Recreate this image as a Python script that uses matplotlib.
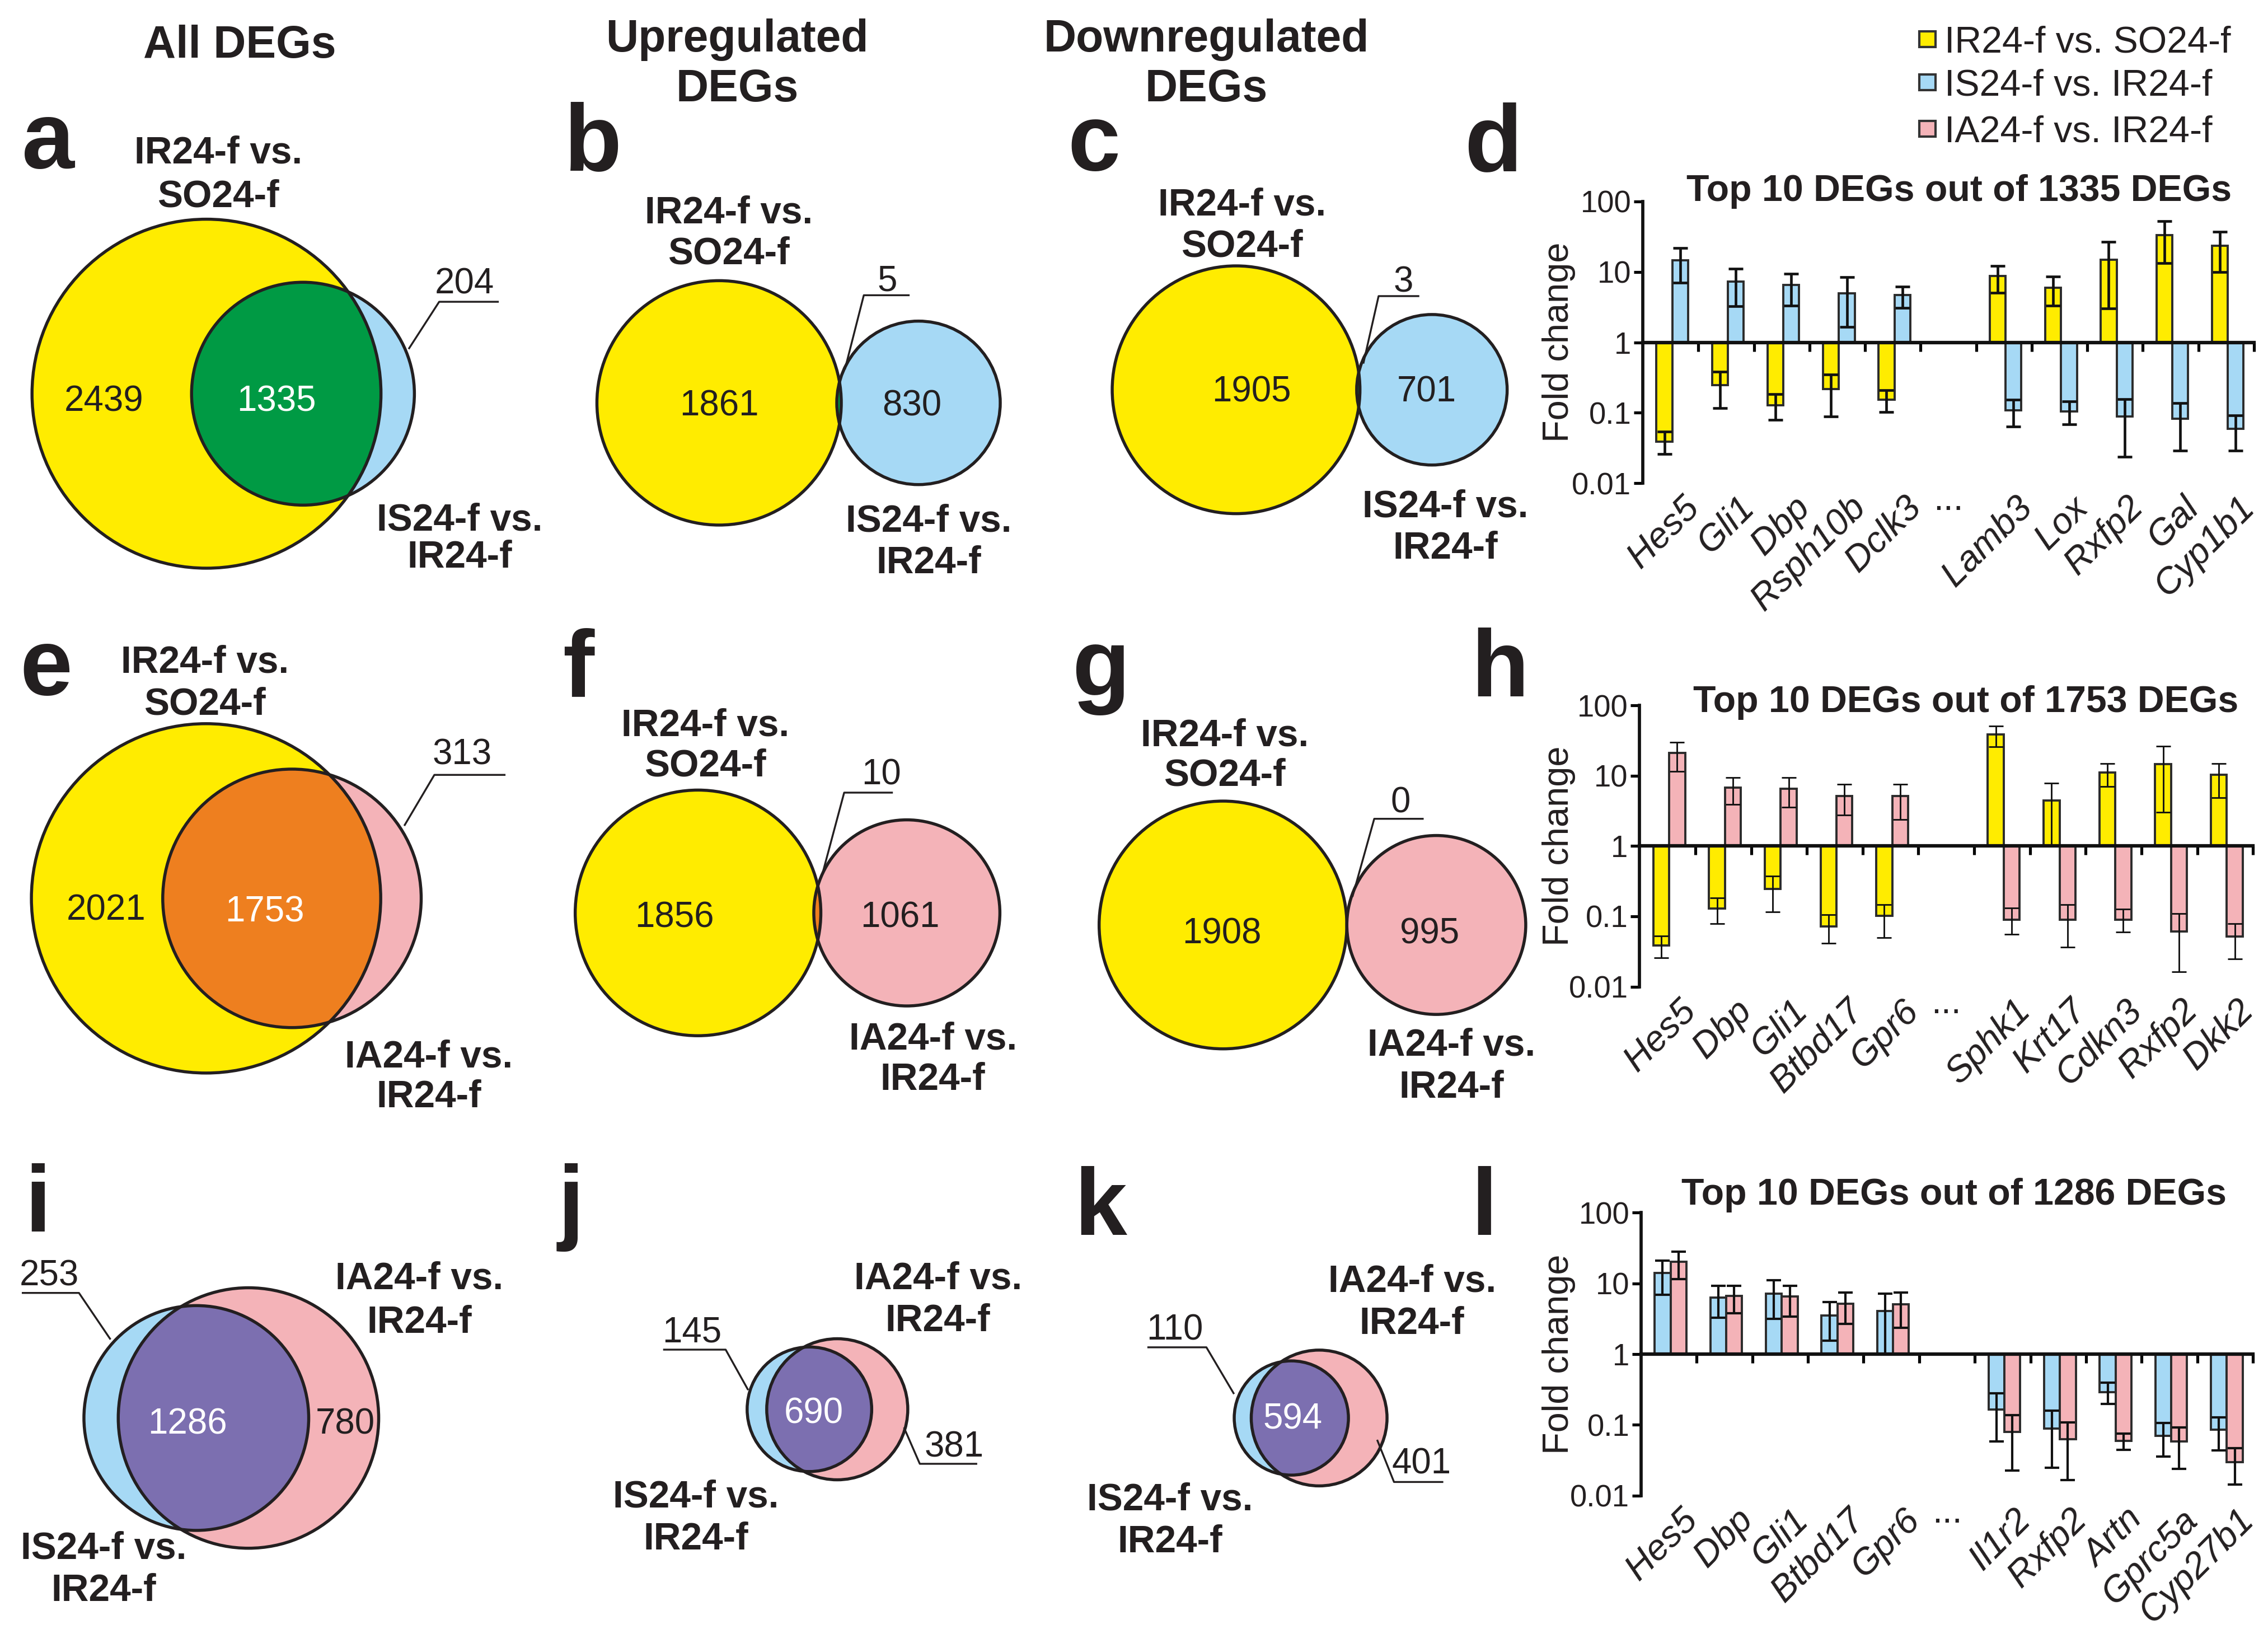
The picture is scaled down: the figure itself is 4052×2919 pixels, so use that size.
import numpy as np
import matplotlib
matplotlib.use("Agg")
import matplotlib.pyplot as plt
from matplotlib.patches import Circle, Rectangle
from matplotlib.transforms import blended_transform_factory

plt.rcParams['font.family'] = ['Liberation Sans', 'DejaVu Sans']

# ---------------- data ----------------
# Venn counts: (only left set, overlap, only right set)
venn_a = (2439, 1335, 204)
venn_b = (1861, 5, 830)
venn_c = (1905, 3, 701)
venn_e = (2021, 1753, 313)
venn_f = (1856, 10, 1061)
venn_g = (1908, 0, 995)
venn_i = (253, 1286, 780)
venn_j = (145, 690, 381)
venn_k = (110, 594, 401)

nan = np.nan
# panel d: IR24-f vs SO24-f (yellow) and IS24-f vs IR24-f (blue)
d_genes = ["Hes5", "Gli1", "Dbp", "Rsph10b", "Dclk3", "...", "Lamb3", "Lox", "Rxfp2", "Gal", "Cyp1b1"]
d_yel = [0.039, 0.247, 0.128, 0.218, 0.153, nan, 8.8, 5.94, 14.8, 33.3, 23.6]
d_yel_lo = [0.026, 0.116, 0.079, 0.089, 0.103, nan, 5.1, 3.3, 3.03, 13.3, 9.9]
d_yel_hi = [0.054, 0.38, 0.184, 0.35, 0.208, nan, 12.2, 8.65, 26.5, 53.0, 37.0]
d_blu = [14.7, 7.35, 6.48, 5.0, 4.72, nan, 0.108, 0.105, 0.089, 0.082, 0.059]
d_blu_lo = [7.0, 3.24, 3.3, 1.65, 3.06, nan, 0.064, 0.069, 0.0236, 0.029, 0.029]
d_blu_hi = [21.8, 11.2, 9.35, 8.4, 6.2, nan, 0.155, 0.146, 0.156, 0.137, 0.092]

# panel h: IR24-f vs SO24-f (yellow) and IA24-f vs IR24-f (pink)
h_genes = ["Hes5", "Dbp", "Gli1", "Btbd17", "Gpr6", "...", "Sphk1", "Krt17", "Cdkn3", "Rxfp2", "Dkk2"]
h_yel = [0.0385, 0.13, 0.243, 0.072, 0.101, nan, 38.9, 4.41, 11.0, 14.7, 10.3]
h_yel_lo = [0.0257, 0.078, 0.115, 0.0416, 0.05, nan, 26.0, 0.99, 7.06, 3.0, 4.9]
h_yel_hi = [0.053, 0.184, 0.374, 0.106, 0.148, nan, 51.0, 7.86, 15.0, 26.2, 15.0]
h_pnk = [21.2, 6.74, 6.55, 5.15, 5.15, nan, 0.09, 0.09, 0.09, 0.0605, 0.0514]
h_pnk_lo = [11.5, 3.93, 3.57, 2.75, 2.38, nan, 0.0556, 0.0367, 0.06, 0.0162, 0.0247]
h_pnk_hi = [30.0, 9.4, 9.4, 7.56, 7.56, nan, 0.131, 0.148, 0.126, 0.109, 0.0785]

# panel l: IS24-f vs IR24-f (blue) and IA24-f vs IR24-f (pink)
l_genes = ["Hes5", "Dbp", "Gli1", "Btbd17", "Gpr6", "...", "Il1r2", "Rxfp2", "Artn", "Gprc5a", "Cyp27b1"]
l_blu = [14.1, 6.25, 7.1, 3.5, 4.1, nan, 0.166, 0.089, 0.288, 0.0697, 0.0863]
l_blu_lo = [6.96, 3.3, 3.18, 1.55, 1.0, nan, 0.058, 0.0246, 0.199, 0.0357, 0.0435]
l_blu_hi = [20.9, 9.16, 11.0, 5.4, 7.1, nan, 0.28, 0.158, 0.398, 0.107, 0.128]
l_pnk = [20.2, 6.63, 6.56, 5.14, 5.04, nan, 0.08, 0.0625, 0.0595, 0.0583, 0.030]
l_pnk_lo = [11.5, 3.79, 3.37, 2.67, 2.37, nan, 0.0228, 0.0166, 0.0443, 0.0237, 0.0144]
l_pnk_hi = [28.0, 9.25, 9.25, 7.45, 7.45, nan, 0.138, 0.108, 0.076, 0.0916, 0.047]

yticks = [0.01, 0.1, 1, 10, 100]
ytick_labels = ["0.01", "0.1", "1", "10", "100"]
legend_labels = ["IR24-f vs. SO24-f", "IS24-f vs. IR24-f", "IA24-f vs. IR24-f"]

# ---------------- style ----------------
YEL = '#FFEC00'
BLU = '#A6D9F5'
PNK = '#F4B3B8'
GRN = '#009A44'
ORG = '#EE7F1F'
PUR = '#7C6FB0'
TXT = '#231F20'

W = 1560.0
S = 4053 / W
HD = 2919 / S
DPI = 187
fig = plt.figure(figsize=(4053 / DPI, 2919 / DPI), dpi=DPI)
fig.patch.set_facecolor('white')

ax0 = fig.add_axes([0, 0, 1, 1])
ax0.set_xlim(0, W)
ax0.set_ylim(HD, 0)
ax0.axis('off')


def T(x, yc, s, size, bold=False, color=TXT, ha='center', style='normal'):
    ax0.text(x, yc + 0.358 * size, s, fontsize=size, fontweight='bold' if bold else 'normal',
             color=color, ha=ha, va='baseline', fontstyle=style)


def frect(x0, y0, x1, y1):
    return [x0 / W, 1 - y1 / HD, (x1 - x0) / W, (y1 - y0) / HD]


def lens(r1, r2, d):
    if d >= r1 + r2:
        return 0.0
    if d <= abs(r1 - r2):
        return np.pi * min(r1, r2) ** 2
    a1 = r1 ** 2 * np.arccos((d * d + r1 * r1 - r2 * r2) / (2 * d * r1))
    a2 = r2 ** 2 * np.arccos((d * d + r2 * r2 - r1 * r1) / (2 * d * r2))
    a3 = 0.5 * np.sqrt((-d + r1 + r2) * (d + r1 - r2) * (d - r1 + r2) * (d + r1 + r2))
    return a1 + a2 - a3


def venn(counts, cx, cy, scale, ca, cb, cab):
    na, nab, nb = counts
    ra = scale * np.sqrt(na + nab)
    rb = scale * np.sqrt(nb + nab)
    target = np.pi * scale ** 2 * nab
    lo, hi = abs(ra - rb), ra + rb
    if target > 0:
        for _ in range(80):
            mid = 0.5 * (lo + hi)
            if lens(ra, rb, mid) > target:
                lo = mid
            else:
                hi = mid
        d = 0.5 * (lo + hi)
    else:
        d = ra + rb
    pa = Circle((cx, cy), ra, fc=ca, ec='none', zorder=1)
    pb = Circle((cx + d, cy), rb, fc=cb, ec='none', zorder=1)
    ax0.add_patch(pa)
    ax0.add_patch(pb)
    pab = Circle((cx + d, cy), rb, fc=cab, ec='none', zorder=2)
    ax0.add_patch(pab)
    pab.set_clip_path(pa)
    for (c, r) in [((cx, cy), ra), ((cx + d, cy), rb)]:
        ax0.add_patch(Circle(c, r, fill=False, ec=TXT, lw=2.1, zorder=3))


def leader(pts):
    xs, ys = zip(*pts)
    ax0.plot(xs, ys, color=TXT, lw=1.3, zorder=4, solid_capstyle='butt')


BL = 26    # bold set label size
NS = 24.5  # numbers size

# headers
T(165, 28.5, "All DEGs", 31, bold=True)
T(507, 24.5, "Upregulated", 31, bold=True)
T(507, 58.4, "DEGs", 31, bold=True)
T(829.5, 24.5, "Downregulated", 31, bold=True)
T(829.5, 58.4, "DEGs", 31, bold=True)

# legend
for k, (lab, col) in enumerate(zip(legend_labels, [YEL, BLU, PNK])):
    yc = [27, 56.5, 88.5][k]
    ax0.add_patch(Rectangle((1320, yc - 5.5), 11, 11, fc=col, ec='#333333', lw=1.6, zorder=3))
    T(1337, yc, lab, 25.5, ha='left')

# panel letters
for letter, x, yb in [("a", 15, 115.5), ("b", 388, 117), ("c", 734, 117), ("d", 1007, 117.4),
                      ("e", 13.5, 477.7), ("f", 387, 479), ("g", 737, 478), ("h", 1011.5, 478.8),
                      ("i", 17, 847), ("j", 383.5, 847), ("k", 738.6, 849), ("l", 1011.5, 849)]:
    ax0.text(x, yb, letter, fontsize=65, fontweight='bold', color=TXT, ha='left', va='baseline')

# ---- panel a ----
venn(venn_a, 142, 270.7, 1.953, YEL, BLU, GRN)
T(150, 103, "IR24-f vs.", BL, True); T(150, 133, "SO24-f", BL, True)
T(71.5, 274, str(venn_a[0]), NS)
T(190, 274, str(venn_a[1]), NS, color='white')
T(319.5, 193, str(venn_a[2]), NS)
leader([(343, 207.5), (302, 207.5), (281, 240)])
T(316, 355.5, "IS24-f vs.", BL, True); T(316, 381, "IR24-f", BL, True)

# ---- panel b ----
venn(venn_b, 494.5, 277, 1.945, YEL, BLU, GRN)
T(501, 144, "IR24-f vs.", BL, True); T(501, 172, "SO24-f", BL, True)
T(494.5, 277, str(venn_b[0]), NS)
T(627, 277, str(venn_b[2]), NS)
T(610, 191, str(venn_b[1]), NS)
leader([(625.5, 203), (594, 203), (581, 254)])
T(638.5, 356, "IS24-f vs.", BL, True); T(638.5, 385, "IR24-f", BL, True)

# ---- panel c ----
venn(venn_c, 850, 268, 1.95, YEL, BLU, GRN)
T(854, 138.5, "IR24-f vs.", BL, True); T(854, 167, "SO24-f", BL, True)
T(860.5, 267.5, str(venn_c[0]), NS)
T(981, 267.5, str(venn_c[2]), NS)
T(965, 192, str(venn_c[1]), NS)
leader([(976, 203.6), (948, 203.6), (937.5, 250)])
T(994, 346, "IS24-f vs.", BL, True); T(994, 375, "IR24-f", BL, True)

# ---- panel e ----
venn(venn_e, 141.7, 617.7, 1.955, YEL, PNK, ORG)
T(141, 453.3, "IR24-f vs.", BL, True); T(141, 482, "SO24-f", BL, True)
T(73, 624, str(venn_e[0]), NS)
T(182, 625, str(venn_e[1]), NS, color='white')
T(317.7, 516.7, str(venn_e[2]), NS)
leader([(347.6, 532.8), (298.7, 532.8), (278, 567.8)])
T(295, 724.4, "IA24-f vs.", BL, True); T(295, 752, "IR24-f", BL, True)

# ---- panel f ----
venn(venn_f, 480, 627.7, 1.955, YEL, PNK, ORG)
T(485, 496.7, "IR24-f vs.", BL, True); T(485, 524.5, "SO24-f", BL, True)
T(463.6, 629, str(venn_f[0]), NS)
T(619, 629, str(venn_f[2]), NS)
T(606, 530.7, str(venn_f[1]), NS)
leader([(614, 545), (580.5, 545), (565.5, 601)])
T(641.5, 712, "IA24-f vs.", BL, True); T(641.5, 740, "IR24-f", BL, True)

# ---- panel g ----
venn(venn_g, 841, 636, 1.95, YEL, PNK, ORG)
T(842, 503.5, "IR24-f vs.", BL, True); T(842, 531, "SO24-f", BL, True)
T(840, 640, str(venn_g[0]), NS)
T(983, 640, str(venn_g[2]), NS)
T(963, 550, str(venn_g[1]), NS)
leader([(979, 563), (945, 563), (930, 616.7)])
T(998, 716.6, "IA24-f vs.", BL, True); T(998, 745.5, "IR24-f", BL, True)

# ---- panel i ----
venn(venn_i, 135, 975, 1.97, BLU, PNK, PUR)
T(34, 875, str(venn_i[0]), NS)
leader([(15, 889), (54.3, 889), (76, 921)])
T(288.5, 877, "IA24-f vs.", BL, True); T(288.5, 907, "IR24-f", BL, True)
T(129, 977, str(venn_i[1]), NS, color='white')
T(237.6, 977, str(venn_i[2]), NS)
T(71.3, 1062.5, "IS24-f vs.", BL, True); T(71.3, 1091.4, "IR24-f", BL, True)

# ---- panel j ----
venn(venn_j, 556.6, 969, 1.482, BLU, PNK, PUR)
T(476, 914, str(venn_j[0]), NS)
leader([(456, 928), (499, 928), (514.5, 955.8)])
T(645, 877, "IA24-f vs.", BL, True); T(645, 906, "IR24-f", BL, True)
T(559.5, 970, str(venn_j[1]), NS, color='white')
T(656, 993, str(venn_j[2]), NS)
leader([(621.6, 981.5), (632.5, 1006.5), (672, 1006.5)])
T(478.5, 1027, "IS24-f vs.", BL, True); T(478.5, 1056, "IR24-f", BL, True)

# ---- panel k ----
venn(venn_k, 888, 975, 1.48, BLU, PNK, PUR)
T(808, 912.5, str(venn_k[0]), NS)
leader([(789, 926.4), (829.6, 926.4), (848.6, 958.5)])
T(971, 879, "IA24-f vs.", BL, True); T(971, 908, "IR24-f", BL, True)
T(889, 973.5, str(venn_k[1]), NS, color='white')
T(977.6, 1004.6, str(venn_k[2]), NS)
leader([(947, 990), (958.6, 1019), (992.5, 1019)])
T(804.5, 1029, "IS24-f vs.", BL, True); T(804.5, 1058, "IR24-f", BL, True)


# ---------------- bar charts ----------------
def bar_panel(box, genes, lv, llo, lhi, lcol, rv, rlo, rhi, rcol, title, title_xy, elw):
    ax = fig.add_axes(frect(*box))
    ax.patch.set_alpha(0)
    n = len(genes)
    x = np.arange(n)
    lv, llo, lhi = map(np.asarray, (lv, llo, lhi))
    rv, rlo, rhi = map(np.asarray, (rv, rlo, rhi))
    m = ~np.isnan(lv)
    wbar = 0.285
    xl = x[m] + 0.53 - wbar / 2
    xr = x[m] + 0.53 + wbar / 2
    ax.bar(xl, lv[m] - 1, bottom=1, width=wbar, color=lcol, edgecolor='#2b2b2b', lw=1.5, zorder=2)
    ax.bar(xr, rv[m] - 1, bottom=1, width=wbar, color=rcol, edgecolor='#2b2b2b', lw=1.5, zorder=2)
    ax.errorbar(xl, lv[m], yerr=[lv[m] - llo[m], lhi[m] - lv[m]], fmt='none', ecolor='#111111',
                elinewidth=elw, capsize=5, capthick=elw, zorder=3)
    ax.errorbar(xr, rv[m], yerr=[rv[m] - rlo[m], rhi[m] - rv[m]], fmt='none', ecolor='#111111',
                elinewidth=elw, capsize=5, capthick=elw, zorder=3)
    ax.set_yscale('log')
    ax.set_ylim(0.01, 100)
    ax.set_xlim(0, n)
    ax.set_yticks(yticks)
    ax.set_yticklabels(ytick_labels)
    ax.yaxis.set_minor_locator(matplotlib.ticker.NullLocator())
    ax.set_xticks(np.arange(1, n + 1))
    ax.set_xticklabels([])
    for sp in ['top', 'right']:
        ax.spines[sp].set_visible(False)
    ax.spines['bottom'].set_position(('data', 1))
    ax.spines['bottom'].set_linewidth(2.4)
    ax.spines['left'].set_linewidth(2.2)
    ax.spines['bottom'].set_color('#111111')
    ax.spines['left'].set_color('#111111')
    ax.tick_params(axis='y', direction='out', length=6, width=2, labelsize=21, labelcolor=TXT, pad=2)
    ax.tick_params(axis='x', direction='out', length=6, width=2)
    tr = blended_transform_factory(ax.transData, ax.transAxes)
    for i, g in enumerate(genes):
        if g == "...":
            ax.text(i + 0.5, -0.095, g, transform=tr, ha='center', va='baseline', fontsize=25, color=TXT)
        else:
            ax.text(i + 0.7, -0.025, g, transform=tr, rotation=45, rotation_mode='anchor',
                    ha='right', va='top', fontsize=25, fontstyle='italic', color=TXT)
    yc = 0.5 * (box[1] + box[3])
    ax0.text(1072, yc, "Fold change", rotation=90, ha='center', va='center', fontsize=25, color=TXT)
    T(title_xy[0], title_xy[1], title, 25.5, bold=True)
    return ax


bar_panel((1129.7, 138.5, 1549.9, 332.3), d_genes, d_yel, d_yel_lo, d_yel_hi, YEL,
          d_blu, d_blu_lo, d_blu_hi, BLU, "Top 10 DEGs out of 1335 DEGs", (1347, 129), 1.8)
bar_panel((1127.5, 485, 1549.3, 678.4), h_genes, h_yel, h_yel_lo, h_yel_hi, YEL,
          h_pnk, h_pnk_lo, h_pnk_hi, PNK, "Top 10 DEGs out of 1753 DEGs", (1352, 480.5), 1.1)
bar_panel((1128.5, 833.8, 1549.3, 1028.4), l_genes, l_blu, l_blu_lo, l_blu_hi, BLU,
          l_pnk, l_pnk_lo, l_pnk_hi, PNK, "Top 10 DEGs out of 1286 DEGs", (1343.6, 819.2), 1.6)

fig.savefig("out.png", dpi=DPI, facecolor='white')
